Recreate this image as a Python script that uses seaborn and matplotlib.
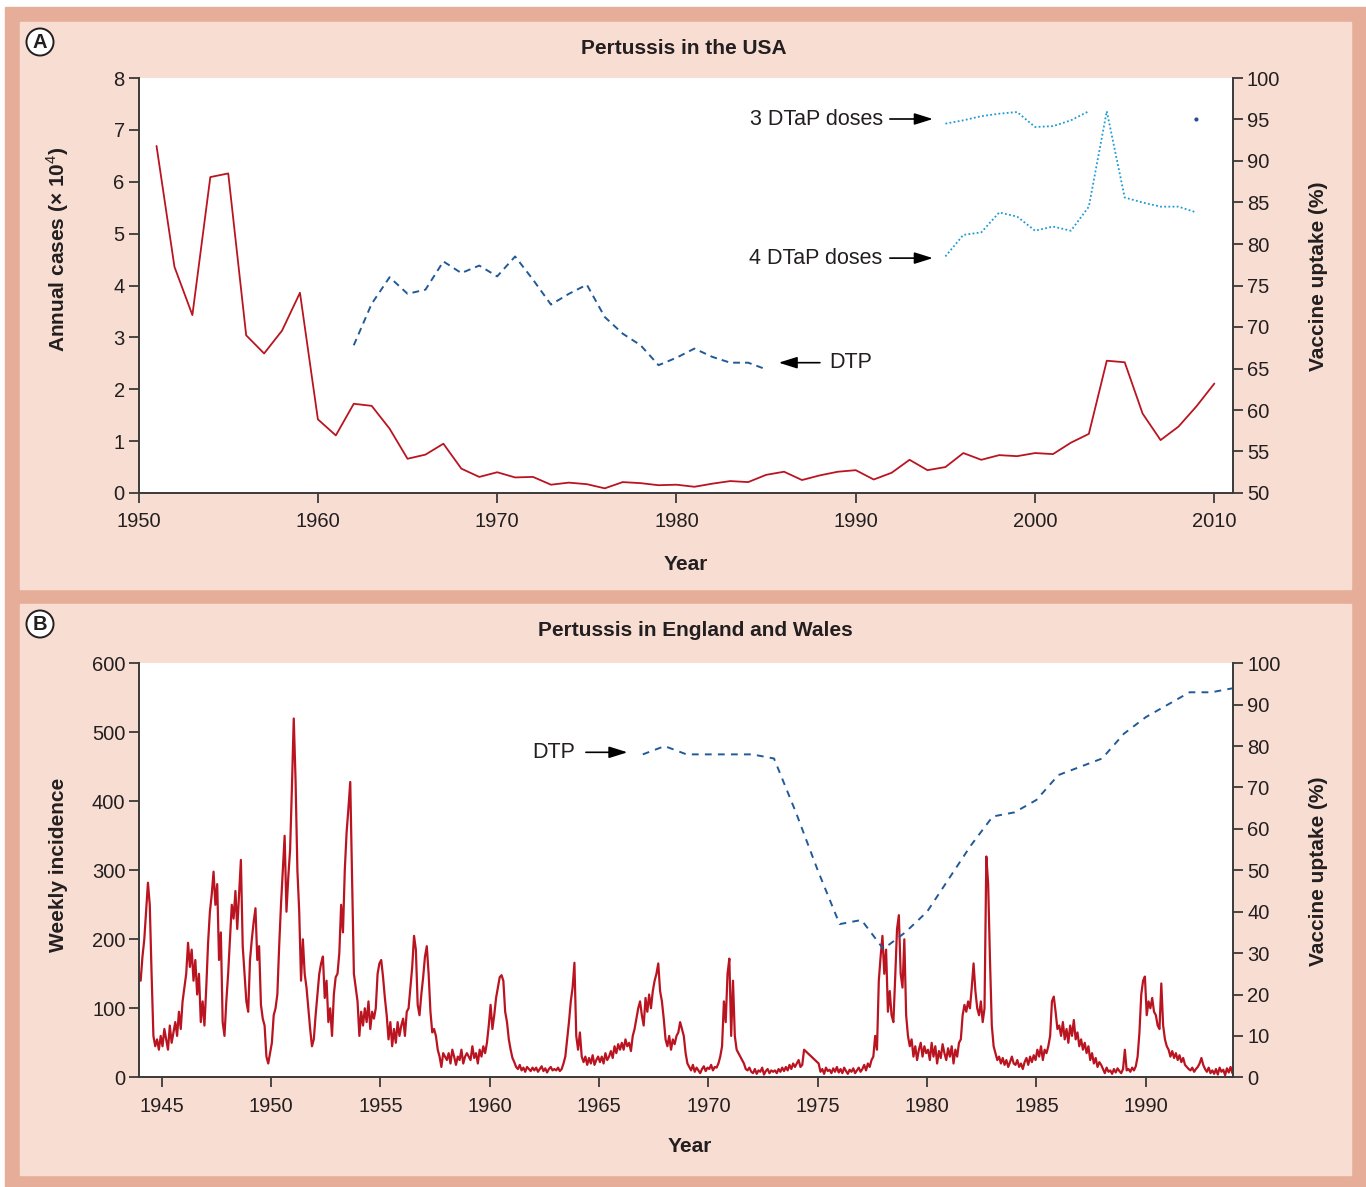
import numpy as np
import pandas as pd
import matplotlib
matplotlib.use("Agg")
import matplotlib.pyplot as plt
from matplotlib.patches import Rectangle
import seaborn as sns

# ---------------- DATA ----------------
# Panel A: Pertussis in the USA
usa_years = list(range(1951, 2011))
usa_cases = [6.69, 4.36, 3.43, 6.09, 6.16, 3.04, 2.69, 3.13, 3.86, 1.42,
             1.11, 1.72, 1.68, 1.24, 0.66, 0.74, 0.95, 0.47, 0.31, 0.40,
             0.30, 0.31, 0.16, 0.20, 0.17, 0.09, 0.21, 0.19, 0.15, 0.16,
             0.12, 0.18, 0.23, 0.21, 0.35, 0.41, 0.25, 0.34, 0.41, 0.44,
             0.26, 0.39, 0.64, 0.44, 0.50, 0.77, 0.64, 0.73, 0.71, 0.77,
             0.75, 0.97, 1.14, 2.55, 2.52, 1.53, 1.02, 1.28, 1.67, 2.11]
usa_dtp_years = list(range(1962, 1986))
usa_dtp = [67.8, 72.8, 76.0, 74.0, 74.5, 77.9, 76.5, 77.4, 76.1, 78.5,
           75.7, 72.7, 74.0, 75.1, 71.2, 69.2, 67.8, 65.4, 66.3, 67.4,
           66.4, 65.7, 65.7, 64.9]
usa_dtap3_years = list(range(1995, 2004))
usa_dtap3 = [94.5, 94.9, 95.4, 95.7, 95.9, 94.1, 94.2, 94.9, 96.0]
usa_dtap3_last_year = [2009]
usa_dtap3_last = [95.0]
usa_dtap4_years = list(range(1995, 2010))
usa_dtap4 = [78.5, 81.1, 81.4, 83.8, 83.3, 81.6, 82.1, 81.6, 84.5, 96.0,
             85.6, 85.0, 84.5, 84.5, 83.8]

# Panel B: Pertussis in England and Wales (monthly readings of weekly incidence)
ew_start_year = 1944
ew_incidence = [
    # 1944
    140, 175, 200, 240, 282, 250, 150, 60, 45, 55, 40, 60,
    # 1945
    45, 70, 55, 40, 75, 50, 65, 80, 60, 95, 70, 110,
    # 1946
    130, 150, 195, 160, 185, 140, 170, 120, 150, 80, 110, 75,
    # 1947
    130, 195, 240, 265, 298, 250, 280, 170, 210, 80, 60, 110,
    # 1948
    150, 200, 250, 230, 270, 215, 265, 315, 190, 150, 110, 95,
    # 1949
    170, 200, 225, 245, 170, 190, 105, 85, 75, 30, 20, 35,
    # 1950
    50, 90, 100, 120, 190, 250, 300, 350, 240, 290, 330, 420,
    # 1951
    520, 430, 300, 240, 140, 200, 150, 130, 100, 70, 45, 55,
    # 1952
    90, 120, 150, 165, 175, 115, 140, 80, 100, 60, 120, 145,
    # 1953
    150, 180, 250, 210, 300, 355, 390, 428, 290, 150, 130, 110,
    # 1954
    60, 95, 75, 100, 80, 110, 70, 95, 85, 100, 150, 165,
    # 1955
    170, 145, 115, 90, 55, 80, 45, 70, 50, 80, 60, 75,
    # 1956
    85, 60, 95, 100, 130, 160, 205, 185, 105, 90, 120, 145,
    # 1957
    175, 190, 150, 95, 65, 70, 60, 40, 30, 15, 35, 30,
    # 1958
    25, 35, 20, 40, 30, 18, 30, 25, 40, 20, 30, 35,
    # 1959
    30, 25, 45, 28, 35, 20, 40, 30, 45, 35, 50, 75,
    # 1960
    105, 70, 90, 115, 130, 145, 148, 140, 95, 80, 55, 40,
    # 1961
    28, 22, 15, 12, 18, 10, 14, 8, 15, 12, 9, 14,
    # 1962
    10, 14, 8, 12, 16, 9, 13, 7, 12, 15, 10, 12,
    # 1963
    10, 14, 9, 12, 20, 30, 55, 80, 110, 130, 166, 60,
    # 1964
    40, 65, 30, 22, 30, 18, 28, 20, 32, 18, 25, 30,
    # 1965
    22, 30, 20, 35, 25, 30, 38, 28, 45, 35, 48, 40,
    # 1966
    50, 40, 55, 45, 50, 38, 60, 70, 85, 100, 110, 90,
    # 1967
    75, 115, 95, 120, 100, 125, 140, 150, 165, 125, 110, 85,
    # 1968
    55, 45, 60, 40, 55, 48, 60, 65, 80, 70, 60, 35,
    # 1969
    20, 15, 10, 18, 8, 14, 10, 6, 12, 16, 9, 14,
    # 1970
    12, 18, 10, 15, 14, 20, 30, 45, 110, 80, 150, 172,
    # 1971
    60, 140, 60, 40, 35, 30, 25, 20, 12, 10, 14, 8,
    # 1972
    6, 12, 5, 10, 8, 14, 4, 9, 12, 6, 10, 8,
    # 1973
    10, 6, 12, 8, 14, 9, 15, 10, 18, 12, 20, 15,
    # 1974 (gap in records after May)
    20, 25, 15, 18, 40, np.nan, np.nan, np.nan, np.nan, np.nan, np.nan, np.nan,
    # 1975
    20, 8, 12, 5, 14, 9, 11, 6, 13, 8, 15, 7,
    # 1976
    12, 6, 14, 9, 5, 11, 8, 13, 6, 10, 14, 8,
    # 1977
    12, 18, 10, 20, 15, 25, 30, 60, 40, 140, 175, 205,
    # 1978
    150, 185, 95, 125, 90, 80, 145, 215, 235, 150, 130, 200,
    # 1979
    90, 60, 45, 55, 30, 45, 25, 40, 50, 30, 45, 35,
    # 1980
    40, 25, 50, 30, 45, 20, 38, 28, 48, 35, 25, 42,
    # 1981
    30, 45, 20, 40, 30, 50, 55, 90, 105, 95, 110, 100,
    # 1982
    130, 165, 125, 100, 90, 110, 80, 100, 320, 280, 170, 75,
    # 1983
    45, 35, 25, 30, 20, 28, 18, 25, 15, 22, 30, 20,
    # 1984
    18, 25, 15, 20, 12, 22, 28, 18, 30, 22, 32, 25,
    # 1985
    40, 30, 45, 25, 40, 35, 45, 60, 110, 117, 95, 70,
    # 1986
    75, 60, 80, 55, 70, 50, 75, 60, 83, 55, 65, 45,
    # 1987
    55, 40, 50, 35, 45, 25, 35, 20, 28, 15, 22, 18,
    # 1988
    12, 6, 14, 8, 10, 5, 12, 7, 13, 9, 6, 12,
    # 1989
    40, 10, 12, 8, 14, 10, 16, 30, 65, 120, 140, 146,
    # 1990
    90, 110, 100, 115, 95, 90, 75, 70, 136, 75, 55, 45,
    # 1991
    40, 30, 38, 28, 35, 25, 32, 22, 28, 18, 15, 12,
    # 1992
    10, 14, 8, 12, 15, 20, 28, 18, 12, 8, 14, 6,
    # 1993
    10, 5, 12, 4, 14, 8, 11, 3, 13, 7, 15, 6,
]
ew_dtp_years = [1967, 1968, 1969, 1970, 1971, 1972, 1973, 1974, 1975, 1976,
                1977, 1978, 1979, 1980, 1981, 1982, 1983, 1984, 1985, 1986,
                1987, 1988, 1989, 1990, 1991, 1992, 1993, 1994]
ew_dtp = [78, 80, 78, 78, 78, 78, 77, 64, 50, 37,
          38, 31, 35, 40, 48, 56, 63, 64, 67, 73,
          75, 77, 83, 87, 90, 93, 93, 94]

# ---------------- STYLE ----------------
sns.set_theme(style="ticks")
plt.rcParams["font.family"] = ["Liberation Sans", "DejaVu Sans"]
plt.rcParams["mathtext.fontset"] = "custom"
plt.rcParams["mathtext.rm"] = "Liberation Sans"
plt.rcParams["mathtext.bf"] = "Liberation Sans:bold"

RED = "#BA1421"
DBLUE = "#215A98"
LBLUE = "#1E9AD6"
BORDER = "#E6AE98"
PANEL = "#F7DDD2"
SPINE = "#3A3A3A"
TXT = "#231F20"

TICK_FS = 14.5
LABEL_FS = 15
TITLE_FS = 15
ANN_FS = 15.5

W, H = 1366, 1187
fig = plt.figure(figsize=(W / 100, H / 100), dpi=100)
fig.patch.set_facecolor("white")


def fx(px):
    return px / W


def fy(py):
    return 1 - py / H


# background frames
fig.patches.append(Rectangle((fx(5), fy(H)), fx(W) - fx(5), fy(7) - fy(H),
                             transform=fig.transFigure, color=BORDER, zorder=-10))
fig.patches.append(Rectangle((fx(20), fy(589)), fx(1351) - fx(20), fy(22) - fy(589),
                             transform=fig.transFigure, color=PANEL, zorder=-9))
fig.patches.append(Rectangle((fx(20), fy(1175)), fx(1351) - fx(20), fy(604) - fy(1175),
                             transform=fig.transFigure, color=PANEL, zorder=-9))


def style_axes(ax, ax2):
    for a in (ax, ax2):
        a.set_facecolor("none")
        for s in ("left", "right", "bottom", "top"):
            a.spines[s].set_visible(False)
    ax.set_facecolor("white")
    ax.spines["left"].set_visible(True)
    ax.spines["bottom"].set_visible(True)
    ax2.spines["right"].set_visible(True)
    for a in (ax, ax2):
        for s in a.spines.values():
            s.set_color(SPINE)
            s.set_linewidth(1.4)
        a.tick_params(direction="out", length=7, width=1.3, colors=SPINE,
                      labelcolor=TXT, labelsize=TICK_FS, pad=3)
    ax.tick_params(axis="x", pad=7)
    ax.set_xlabel("")
    ax.set_ylabel("")
    ax2.set_xlabel("")
    ax2.set_ylabel("")


# ---------------- PANEL A ----------------
axA = fig.add_axes([fx(138.6), fy(493), fx(1233) - fx(138.6), fy(78) - fy(493)])
axA2 = axA.twinx()

dfA = pd.DataFrame({"year": usa_years, "cases": usa_cases})
sns.lineplot(data=dfA, x="year", y="cases", ax=axA, color=RED, lw=1.3, errorbar=None)

df_dtp = pd.DataFrame({"year": usa_dtp_years, "uptake": usa_dtp})
sns.lineplot(data=df_dtp, x="year", y="uptake", ax=axA2, color=DBLUE, lw=1.4,
             linestyle=(0, (3.5, 2.6)), errorbar=None)
df_d3 = pd.DataFrame({"year": usa_dtap3_years, "uptake": usa_dtap3})
sns.lineplot(data=df_d3, x="year", y="uptake", ax=axA2, color=LBLUE, lw=1.3,
             linestyle=(0, (1.0, 1.3)), errorbar=None)
df_d4 = pd.DataFrame({"year": usa_dtap4_years, "uptake": usa_dtap4})
sns.lineplot(data=df_d4, x="year", y="uptake", ax=axA2, color=LBLUE, lw=1.3,
             linestyle=(0, (1.0, 1.3)), errorbar=None)
df_d3l = pd.DataFrame({"year": usa_dtap3_last_year, "uptake": usa_dtap3_last})
sns.scatterplot(data=df_d3l, x="year", y="uptake", ax=axA2, color="#2B4A99",
                s=9, edgecolor="none")

axA.set_xlim(1950, 2011.04)
axA.set_ylim(0, 8)
axA.set_xticks(range(1950, 2011, 10))
axA.set_yticks(range(0, 9))
axA2.set_ylim(50, 100)
axA2.set_yticks(range(50, 101, 5))
style_axes(axA, axA2)

arrow_kw = dict(arrowstyle="-|>,head_length=0.7,head_width=0.22", color="black",
                lw=1.2, mutation_scale=16, shrinkA=0, shrinkB=0)
for label, yv in (("3 DTaP doses", 95.06), ("4 DTaP doses", 78.3)):
    axA2.annotate("", xy=(1994.3, yv), xytext=(1991.9, yv), arrowprops=arrow_kw)
    axA2.text(1991.5, yv, label, ha="right", va="center", fontsize=ANN_FS, color=TXT)
axA2.annotate("", xy=(1985.7, 65.7), xytext=(1988.0, 65.7), arrowprops=arrow_kw)
axA2.text(1988.5, 65.7, "DTP", ha="left", va="center", fontsize=ANN_FS, color=TXT)

# ---------------- PANEL B ----------------
axB = fig.add_axes([fx(139.3), fy(1077.3), fx(1233.3) - fx(139.3), fy(663.3) - fy(1077.3)])
axB2 = axB.twinx()

n = len(ew_incidence)
dfB = pd.DataFrame({"idx": np.arange(n), "inc": ew_incidence})
dfB["time"] = ew_start_year + (dfB["idx"] + 0.5) / 12.0
dfB = dfB.dropna()
sns.lineplot(data=dfB, x="time", y="inc", ax=axB, color=RED, lw=1.6, errorbar=None)

df_bdtp = pd.DataFrame({"year": ew_dtp_years, "uptake": ew_dtp})
sns.lineplot(data=df_bdtp, x="year", y="uptake", ax=axB2, color=DBLUE, lw=1.4,
             linestyle=(0, (3.5, 3.2)), errorbar=None)

axB.set_xlim(1943.98, 1994.0)
axB.set_ylim(0, 600)
axB.set_xticks(range(1945, 1991, 5))
axB.set_yticks(range(0, 601, 100))
axB2.set_ylim(0, 100)
axB2.set_yticks(range(0, 101, 10))
style_axes(axB, axB2)

axB2.annotate("", xy=(1966.3, 78.5), xytext=(1964.4, 78.5), arrowprops=arrow_kw)
axB2.text(1963.9, 78.5, "DTP", ha="right", va="center", fontsize=ANN_FS, color=TXT)

# ---------------- TEXTS ----------------
fig.text(fx(684), fy(48), "Pertussis in the USA", ha="center", va="center",
         fontsize=TITLE_FS, fontweight="bold", color=TXT)
fig.text(fx(695), fy(631), "Pertussis in England and Wales", ha="center", va="center",
         fontsize=TITLE_FS, fontweight="bold", color=TXT)
fig.text(fx(58), fy(249), r"Annual cases (× 10$^{4}$)", ha="center", va="center",
         rotation=90, fontsize=LABEL_FS, fontweight="bold", color=TXT)
fig.text(fx(1318), fy(276), "Vaccine uptake (%)", ha="center", va="center",
         rotation=90, fontsize=LABEL_FS, fontweight="bold", color=TXT)
fig.text(fx(686), fy(565), "Year", ha="center", va="center",
         fontsize=LABEL_FS, fontweight="bold", color=TXT)
fig.text(fx(58), fy(865), "Weekly incidence", ha="center", va="center",
         rotation=90, fontsize=LABEL_FS, fontweight="bold", color=TXT)
fig.text(fx(1318), fy(871), "Vaccine uptake (%)", ha="center", va="center",
         rotation=90, fontsize=LABEL_FS, fontweight="bold", color=TXT)
fig.text(fx(690), fy(1147), "Year", ha="center", va="center",
         fontsize=LABEL_FS, fontweight="bold", color=TXT)

for lab, py in (("A", 42), ("B", 624)):
    fig.text(fx(40), fy(py), lab, ha="center", va="center", fontsize=14.5,
             fontweight="bold", color=TXT,
             bbox=dict(boxstyle="circle,pad=0.2", facecolor="white",
                       edgecolor=TXT, linewidth=1.4))

fig.savefig("out.png", dpi=100, facecolor=fig.get_facecolor())
